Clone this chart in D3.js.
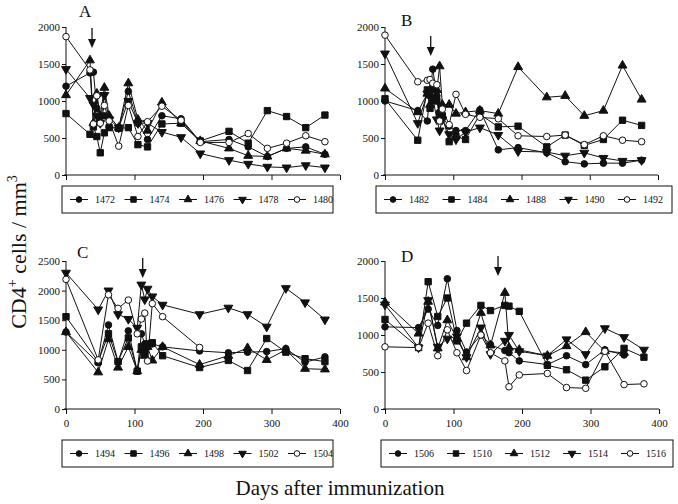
<!DOCTYPE html>
<html>
<head>
<meta charset="utf-8">
<script src="https://cdn.jsdelivr.net/npm/d3@7"></script>
<style>
  body { margin: 0; background: #fff; }
  text { font-family: "Liberation Serif", "DejaVu Serif", serif; fill: #111; }
</style>
</head>
<body>
<script>
// panel A
var daysA = [0, 35, 40, 45, 50, 56, 63, 77, 91, 105, 119, 140, 168, 196, 238, 266, 294, 322, 350, 378];
var namesA = ["1472", "1474", "1476", "1478", "1480"];
var valuesA = [
	[1200, 1380, 1390, 900, 720, 800, 650, 640, 1130, 700, 480, 800, 760, 450, 480, 380, 250, 360, 380, 280],
	[830, 550, 650, 520, 300, 570, 640, 630, 640, 410, 380, 690, 700, 460, 590, 430, 870, 790, 640, 810],
	[1080, 1550, 700, 1100, 800, 1180, 800, 640, 1240, 750, 600, 980, 700, 460, 360, 260, 250, 360, 330, 280],
	[1430, 1040, 950, 800, 700, 1080, 750, 640, 1000, 700, 700, 580, 510, 290, 200, 150, 110, 100, 130, 100],
	[1870, 1420, 690, 1070, 700, 940, 730, 390, 940, 520, 720, 930, 740, 440, 440, 560, 360, 430, 530, 450]
];
var arrowA = 38;

// panel B
var daysB = [0, 48, 62, 66, 70, 76, 80, 84, 94, 104, 118, 139, 166, 195, 237, 264, 292, 320, 348, 376];
var namesB = ["1482", "1484", "1488", "1490", "1492"];
var valuesB = [
	[1000, 870, 730, 1130, 1430, 1070, 850, 780, 660, 600, 600, 880, 340, 370, 300, 180, 150, 160, 160, 200],
	[1030, 470, 1150, 900, 1180, 1000, 800, 800, 450, 520, 480, 820, 650, 660, 380, 540, 400, 480, 740, 670],
	[1170, 850, 1100, 950, 1000, 1150, 1470, 950, 950, 830, 850, 870, 830, 1460, 1050, 1070, 800, 870, 1480, 1020],
	[1640, 700, 1100, 1100, 1050, 750, 600, 750, 550, 480, 580, 640, 540, 320, 310, 260, 300, 230, 190, 200],
	[1890, 1260, 1280, 1290, 1240, 1220, 730, 890, 680, 1090, 820, 780, 760, 530, 520, 540, 410, 530, 470, 450]
];
var arrowB = 67;

// panel C
var daysC = [0, 47, 62, 76, 91, 104, 110, 115, 119, 126, 141, 195, 237, 265, 293, 321, 349, 378];
var namesC = ["1494", "1496", "1498", "1502", "1504"];
var valuesC = [
	[1300, 780, 1420, 800, 1320, 640, 1270, 1100, 1050, 1100, 1050, 980, 950, 960, 970, 1020, 790, 880],
	[1560, 800, 1270, 800, 1200, 640, 1050, 950, 1100, 1120, 900, 700, 820, 650, 1190, 960, 850, 800],
	[1300, 620, 1180, 700, 1050, 640, 1000, 900, 1050, 820, 1050, 750, 900, 1030, 830, 1000, 680, 670],
	[2300, 1680, 2000, 1600, 1520, 1370, 2100, 1850, 2030, 1900, 1760, 1600, 1710, 1600, 1390, 2040, 1800, 1510],
	[2190, 830, 1930, 1700, 1840, 1270, 1520, 1620, 810, 1780, 1560, 1040, null, null, null, null, null, null]
];
var arrowC = 112;

// panel D
var daysD = [0, 49, 63, 77, 91, 105, 119, 140, 154, 175, 181, 196, 237, 265, 293, 321, 349, 378];
var namesD = ["1506", "1510", "1512", "1514", "1516"];
var valuesD = [
	[1110, 1100, 1350, 1130, 1760, 1060, 770, 1000, 870, 790, 760, 650, 600, 720, 600, 800, 730, null],
	[1210, 830, 1720, 1250, 1500, 920, 1160, 1400, 1330, 1400, 1390, 1320, 590, 530, 390, 570, 820, 700],
	[1440, 1020, 1450, 820, 1200, 950, 700, 1300, 860, 1570, 830, 800, 720, 850, 1040, 780, 760, null],
	[1410, 830, 1470, 840, 950, 980, 700, 1100, 740, 920, 1000, 780, 720, 940, 740, 1090, 970, 800],
	[840, 830, 1160, 720, 1070, 760, 520, 1000, 760, 650, 300, 460, 480, 290, 280, 780, 330, 340]
];
var arrowD = 165;

var xTicks = [0, 100, 200, 300, 400];

var svg = d3.select("body").append("svg")
	.attr("width", 678)
	.attr("height", 504);

svg.append("rect").attr("width", 678).attr("height", 504).attr("fill", "#fff");

var symbols = [
	{type: d3.symbolCircle, size: 34, fill: "#111", rot: 0},
	{type: d3.symbolSquare, size: 40, fill: "#111", rot: 0},
	{type: d3.symbolTriangle, size: 34, fill: "#111", rot: 0},
	{type: d3.symbolTriangle, size: 34, fill: "#111", rot: 180},
	{type: d3.symbolCircle, size: 34, fill: "#fff", rot: 0}
];

function drawMarker(g, i, x, y, scale){
	var s = symbols[i];
	g.append("path")
		.attr("d", d3.symbol().type(s.type).size(s.size * (scale || 1))())
		.attr("transform", "translate(" + x + "," + y + ") rotate(" + s.rot + ")")
		.attr("fill", s.fill)
		.attr("stroke", "#111")
		.attr("stroke-width", 1);
}

function drawPanel(p){
	var x = d3.scaleLinear().domain([0, 400]).range([p.x0, p.x1]);
	var y = d3.scaleLinear().domain([0, p.yMax]).range([p.yBot, p.yTop]);
	var g = svg.append("g");

	var yAxis = g.append("g")
		.attr("transform", "translate(" + p.x0 + ",0)")
		.call(d3.axisLeft(y).tickValues(d3.range(0, p.yMax + 1, 500)).tickSize(4).tickPadding(2).tickFormat(d3.format("d")));
	var xAxis = g.append("g")
		.attr("transform", "translate(0," + p.yBot + ")")
		.call(d3.axisBottom(x).tickValues(xTicks).tickSize(5).tickPadding(5).tickFormat(p.tickLabels ? d3.format("d") : ""));
	[yAxis, xAxis].forEach(function(a){
		a.select(".domain").remove();
		a.selectAll("line").attr("stroke", "#111");
		a.selectAll("text").style("font-size", "11px").style("font-family", "Liberation Serif").attr("fill", "#111");
	});
	g.append("line").attr("x1", p.x0).attr("x2", p.x0).attr("y1", p.yTop).attr("y2", p.yBot).attr("stroke", "#111");
	g.append("line").attr("x1", p.x0 - 2).attr("x2", p.x1).attr("y1", p.yBot).attr("y2", p.yBot).attr("stroke", "#111");

	var line = d3.line()
		.x(function(d){ return x(d[0]); })
		.y(function(d){ return y(d[1]); });

	p.values.forEach(function(vals){
		var pts = p.days.map(function(d, j){ return [d, vals[j]]; })
			.filter(function(d){ return d[1] != null; });
		g.append("path")
			.attr("d", line(pts))
			.attr("fill", "none")
			.attr("stroke", "#111")
			.attr("stroke-width", 1);
	});
	p.values.forEach(function(vals, i){
		p.days.forEach(function(d, j){
			if(vals[j] != null) drawMarker(g, i, x(d), y(vals[j]));
		});
	});

	// arrow marking immunization
	var ax = x(p.arrow);
	g.append("line").attr("x1", ax).attr("x2", ax).attr("y1", p.arrowY).attr("y2", p.arrowY + 16)
		.attr("stroke", "#111").attr("stroke-width", 1.3);
	g.append("path")
		.attr("d", "M" + (ax - 4) + "," + (p.arrowY + 11) + "L" + (ax + 4) + "," + (p.arrowY + 11) + "L" + ax + "," + (p.arrowY + 20) + "Z")
		.attr("fill", "#111");

	g.append("text")
		.attr("x", p.labelX).attr("y", p.labelY)
		.style("font-size", "17px")
		.text(p.label);

	// legend
	var lg = g.append("g");
	lg.append("rect")
		.attr("x", p.legend[0]).attr("y", p.legend[1])
		.attr("width", p.legend[2]).attr("height", 27)
		.attr("fill", "none").attr("stroke", "#111").attr("stroke-width", 1);
	var cy = p.legend[1] + 13.5;
	p.names.forEach(function(n, i){
		var lx = p.legend[0] + 8 + i * p.legend[3];
		lg.append("line").attr("x1", lx).attr("x2", lx + 18).attr("y1", cy).attr("y2", cy).attr("stroke", "#111");
		drawMarker(lg, i, lx + 9, cy, 0.75);
		lg.append("text").attr("x", lx + 25).attr("y", cy + 3.5)
			.style("font-size", "10px").text(n);
	});
}

var panels = [
	{label: "A", days: daysA, names: namesA, values: valuesA, arrow: arrowA, x0: 66, x1: 340, yTop: 27, yBot: 175, yMax: 2000,
		tickLabels: false, legend: [62, 186, 271, 54.5], arrowY: 28, labelX: 79, labelY: 17},
	{label: "B", days: daysB, names: namesB, values: valuesB, arrow: arrowB, x0: 385, x1: 658, yTop: 27, yBot: 175, yMax: 2000,
		tickLabels: false, legend: [376, 186, 296, 58.5], arrowY: 36, labelX: 401, labelY: 26},
	{label: "C", days: daysC, names: namesC, values: valuesC, arrow: arrowC, x0: 66, x1: 340, yTop: 261, yBot: 409, yMax: 2500,
		tickLabels: true, legend: [62, 440, 271, 54.5], arrowY: 258, labelX: 77, labelY: 258},
	{label: "D", days: daysD, names: namesD, values: valuesD, arrow: arrowD, x0: 385, x1: 659, yTop: 261, yBot: 409, yMax: 2000,
		tickLabels: true, legend: [381, 440, 292, 58], arrowY: 256, labelX: 401, labelY: 262}
];

panels.forEach(drawPanel);

// axis titles
var yt = svg.append("text")
	.attr("transform", "translate(26,252) rotate(-90)")
	.attr("text-anchor", "middle")
	.style("font-size", "22px");
yt.append("tspan").text("CD4");
yt.append("tspan").attr("dy", -9).style("font-size", "14px").text("+");
yt.append("tspan").attr("dy", 9).text(" cells / mm");
yt.append("tspan").attr("dy", -9).style("font-size", "14px").text("3");

svg.append("text")
	.attr("x", 340).attr("y", 495)
	.attr("text-anchor", "middle")
	.style("font-size", "21px")
	.text("Days after immunization");
</script>
</body>
</html>
